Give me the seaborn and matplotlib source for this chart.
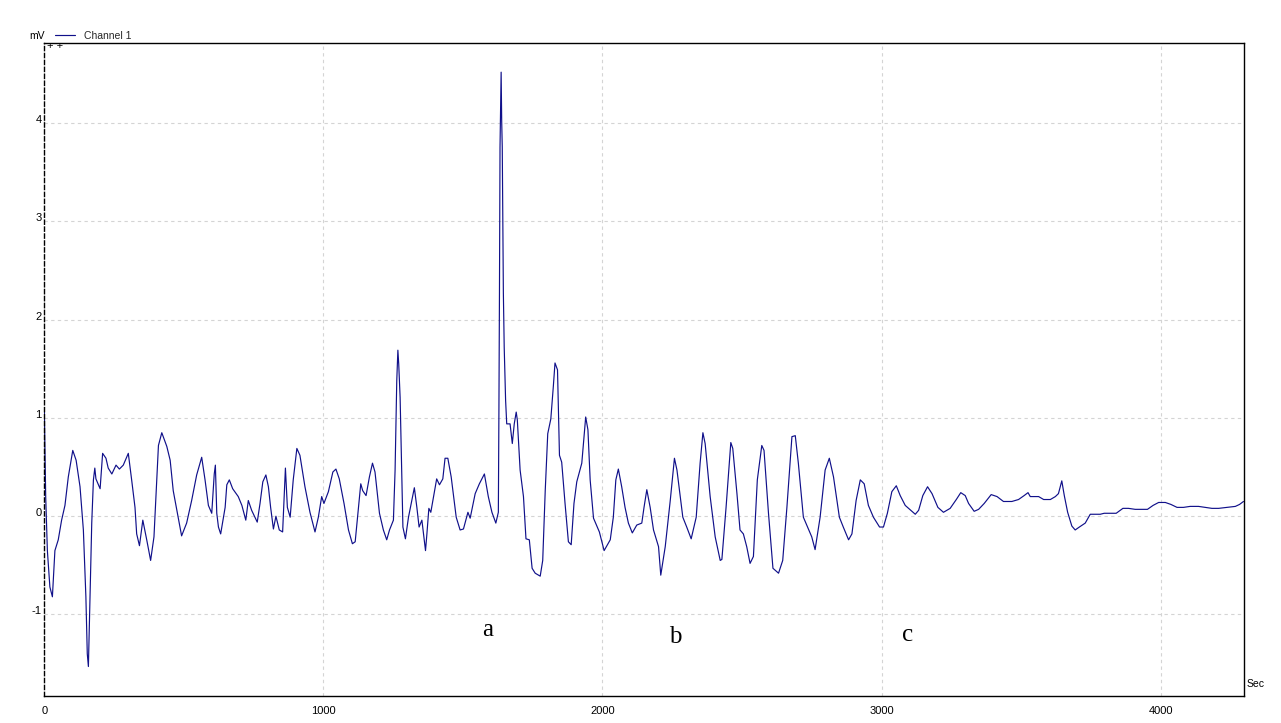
import matplotlib
matplotlib.use("Agg")
import matplotlib.pyplot as plt
import seaborn as sns
import numpy as np
import pandas as pd

# ---- data ----
time_sec = [
    0, 5, 11, 20, 29, 38, 50, 62, 74, 86, 102, 114, 128, 140, 149, 154, 158, 164, 170, 176,
    181, 185, 200, 209, 221, 229, 242, 257, 269, 283, 301, 313, 325, 331, 341, 353, 367, 381, 393, 409,
    421, 439, 451, 462, 492, 510, 528, 546, 564, 576, 588, 600, 609, 613, 618, 624, 632, 648, 654, 663,
    675, 695, 708, 722, 731, 743, 763, 773, 783, 794, 803, 811, 821, 830, 842, 854, 864, 871, 881, 892,
    905, 916, 934, 952, 970, 982, 994, 1002, 1018, 1034, 1045, 1057, 1074, 1090, 1104, 1114, 1125, 1134, 1141, 1153,
    1165, 1176, 1185, 1201, 1215, 1227, 1237, 1251, 1257, 1263, 1267, 1270, 1275, 1280, 1285, 1294, 1305, 1326, 1335, 1343,
    1353, 1366, 1371, 1378, 1385, 1406, 1416, 1428, 1436, 1446, 1458, 1476, 1490, 1502, 1518, 1526, 1544, 1559, 1577, 1591,
    1604, 1618, 1627, 1629, 1631, 1633, 1637, 1639, 1641, 1645, 1648, 1653, 1657, 1661, 1669, 1677, 1684, 1691, 1695, 1705,
    1717, 1726, 1738, 1748, 1759, 1777, 1786, 1795, 1804, 1815, 1824, 1830, 1839, 1846, 1854, 1866, 1878, 1888, 1898, 1908,
    1926, 1932, 1940, 1948, 1956, 1968, 1989, 2006, 2028, 2039, 2048, 2057, 2069, 2081, 2093, 2107, 2123, 2141, 2149, 2159,
    2171, 2183, 2201, 2209, 2225, 2243, 2258, 2267, 2288, 2302, 2318, 2336, 2350, 2360, 2368, 2386, 2404, 2422, 2428, 2443,
    2460, 2467, 2482, 2493, 2505, 2517, 2529, 2541, 2555, 2571, 2579, 2595, 2611, 2619, 2631, 2646, 2661, 2679, 2691, 2702,
    2720, 2738, 2750, 2762, 2780, 2798, 2813, 2828, 2849, 2863, 2882, 2894, 2909, 2924, 2938, 2953, 2971, 2993, 3007, 3021,
    3037, 3053, 3067, 3085, 3105, 3121, 3133, 3148, 3165, 3181, 3202, 3222, 3246, 3268, 3284, 3300, 3312, 3332, 3348, 3368,
    3393, 3414, 3437, 3467, 3491, 3511, 3525, 3533, 3563, 3581, 3605, 3623, 3634, 3646, 3655, 3667, 3682, 3694, 3709, 3730,
    3748, 3766, 3784, 3798, 3820, 3841, 3865, 3885, 3909, 3933, 3953, 3973, 3993, 4017, 4037, 4059, 4082, 4106, 4136, 4160,
    4184, 4208, 4238, 4268, 4283, 4297,
]
channel1_mv = [
    1.10, 0.20, -0.35, -0.72, -0.82, -0.35, -0.24, -0.04, 0.11, 0.40, 0.67, 0.57, 0.30, -0.14, -0.82, -1.40, -1.53, -0.79, -0.07, 0.37,
    0.49, 0.38, 0.28, 0.64, 0.59, 0.49, 0.43, 0.52, 0.48, 0.52, 0.64, 0.37, 0.09, -0.18, -0.30, -0.04, -0.24, -0.45, -0.21, 0.72,
    0.85, 0.71, 0.57, 0.26, -0.20, -0.07, 0.16, 0.42, 0.60, 0.37, 0.11, 0.03, 0.43, 0.52, 0.03, -0.11, -0.18, 0.09, 0.32, 0.37,
    0.28, 0.20, 0.11, -0.04, 0.16, 0.06, -0.06, 0.13, 0.35, 0.42, 0.30, 0.09, -0.13, 0.00, -0.14, -0.16, 0.49, 0.09, -0.01, 0.37,
    0.69, 0.62, 0.30, 0.04, -0.16, -0.01, 0.20, 0.13, 0.25, 0.45, 0.48, 0.38, 0.13, -0.14, -0.28, -0.26, 0.06, 0.33, 0.26, 0.21,
    0.40, 0.54, 0.45, 0.03, -0.14, -0.24, -0.14, -0.04, 0.47, 1.38, 1.69, 1.55, 1.21, 0.54, -0.11, -0.23, -0.01, 0.29, 0.09, -0.11,
    -0.04, -0.35, -0.18, 0.08, 0.04, 0.38, 0.32, 0.38, 0.59, 0.59, 0.40, -0.01, -0.14, -0.13, 0.04, -0.02, 0.23, 0.33, 0.43, 0.20,
    0.04, -0.07, 0.04, 1.05, 2.27, 3.76, 4.52, 4.02, 3.76, 2.27, 1.72, 1.18, 0.94, 0.94, 0.94, 0.74, 0.94, 1.06, 0.98, 0.47,
    0.20, -0.23, -0.24, -0.53, -0.58, -0.61, -0.45, 0.26, 0.84, 0.99, 1.32, 1.56, 1.49, 0.62, 0.55, 0.13, -0.26, -0.29, 0.13, 0.35,
    0.54, 0.74, 1.01, 0.88, 0.37, -0.02, -0.16, -0.35, -0.24, -0.01, 0.37, 0.48, 0.30, 0.09, -0.07, -0.17, -0.09, -0.07, 0.09, 0.27,
    0.09, -0.14, -0.31, -0.60, -0.31, 0.16, 0.59, 0.47, -0.01, -0.11, -0.23, -0.01, 0.54, 0.85, 0.74, 0.20, -0.21, -0.45, -0.44, 0.09,
    0.75, 0.69, 0.23, -0.14, -0.18, -0.31, -0.48, -0.41, 0.37, 0.72, 0.67, 0.03, -0.53, -0.55, -0.58, -0.45, 0.09, 0.81, 0.82, 0.54,
    -0.01, -0.13, -0.21, -0.34, -0.01, 0.47, 0.59, 0.40, -0.01, -0.11, -0.24, -0.18, 0.16, 0.37, 0.33, 0.11, -0.01, -0.11, -0.11, 0.03,
    0.25, 0.31, 0.21, 0.11, 0.06, 0.02, 0.06, 0.21, 0.30, 0.23, 0.09, 0.04, 0.08, 0.17, 0.24, 0.21, 0.13, 0.05, 0.07, 0.13,
    0.22, 0.20, 0.15, 0.15, 0.17, 0.21, 0.24, 0.20, 0.20, 0.17, 0.17, 0.20, 0.23, 0.36, 0.21, 0.04, -0.10, -0.14, -0.11, -0.07,
    0.02, 0.02, 0.02, 0.03, 0.03, 0.03, 0.08, 0.08, 0.07, 0.07, 0.07, 0.11, 0.14, 0.14, 0.12, 0.09, 0.09, 0.10, 0.10, 0.09,
    0.08, 0.08, 0.09, 0.10, 0.12, 0.15,
]
x_ticks = [0, 1000, 2000, 3000, 4000]
y_ticks = [-1, 0, 1, 2, 3, 4]
series_label = "Channel 1"
x_unit = "Sec"
y_unit = "mV"
annotations = ["a", "b", "c"]
annotation_t = [1587, 2260, 3092]
annotation_v = [-1.16, -1.23, -1.21]

# ---- plot ----
sns.set_style("white")
plt.rcParams["font.family"] = ["Liberation Sans", "DejaVu Sans"]

W, H = 1281, 723
fig = plt.figure(figsize=(W / 100, H / 100), dpi=100)
ax = fig.add_axes([44.3 / W, 1 - 696 / H, (1244.3 - 44.3) / W, (696 - 42.7) / H])

df = pd.DataFrame({"t": time_sec, "v": channel1_mv})
line_color = "#10108a"
sns.lineplot(data=df, x="t", y="v", ax=ax, color=line_color, linewidth=0.85,
             estimator=None, sort=False, label=series_label)

ax.set_xlim(0, 4300)
ax.set_ylim(-1.83, 4.82)
ax.set_xticks(x_ticks)
ax.set_yticks(y_ticks)
ax.set_xticklabels([str(v) for v in x_ticks])
ax.set_yticklabels([str(v) for v in y_ticks])
ax.set_xlabel("")
ax.set_ylabel("")

ax.grid(True, color="#d4d4d4", linestyle=(0, (3, 3)), linewidth=0.8)
ax.set_axisbelow(True)

for side in ["top", "right", "bottom"]:
    ax.spines[side].set_visible(True)
    ax.spines[side].set_color("black")
    ax.spines[side].set_linewidth(1.0)
ax.spines["left"].set_color("black")
ax.spines["left"].set_linewidth(1.0)
ax.spines["left"].set_linestyle((0, (3, 2)))

ax.tick_params(axis="x", length=4, width=1, color="black", direction="out",
               pad=3.4, labelsize=8, labelcolor="black")
ax.tick_params(axis="y", length=0, pad=2, labelsize=8, labelcolor="black")
for lab in ax.get_yticklabels():
    lab.set_verticalalignment("baseline")

# unit labels
ax.text(0.0008, 1.0103, y_unit, transform=ax.transAxes, ha="right", va="center",
        fontsize=7.5, color="black")
ax.text(1.002, 0.018, x_unit, transform=ax.transAxes, ha="left", va="center",
        fontsize=7.5, color="black")
ax.text(0.0022, 0.9955, "+ +", transform=ax.transAxes, ha="left", va="center",
        fontsize=8, color="black")

# legend at top
leg = ax.legend(loc="center left", bbox_to_anchor=(55 / W, 1 - 36 / H),
                bbox_transform=fig.transFigure, frameon=False, fontsize=7.5,
                handlelength=1.9, handletextpad=0.9, borderpad=0, borderaxespad=0)

# a, b, c annotations
for s, t, v in zip(annotations, annotation_t, annotation_v):
    ax.text(t, v, s, ha="center", va="center", fontsize=18,
            family="Liberation Serif", color="black")

fig.savefig("out.png", dpi=100)
